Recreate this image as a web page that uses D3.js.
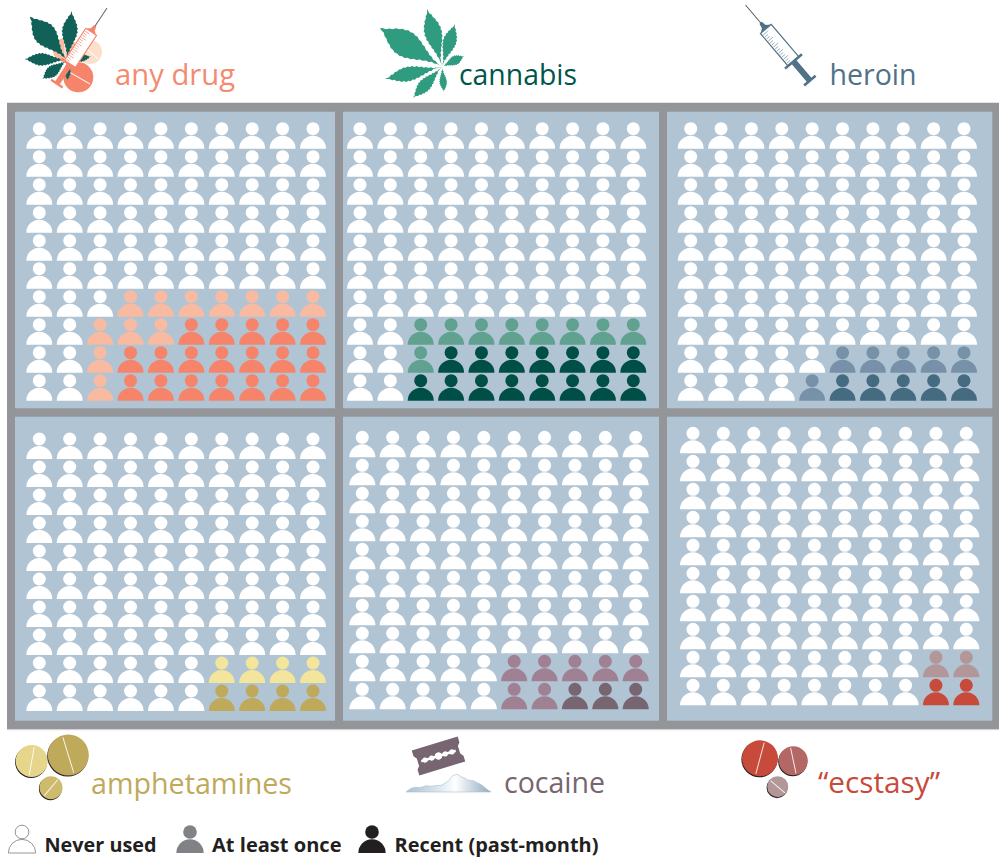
<!DOCTYPE html>
<html>
<head>
<meta charset="utf-8">
<title>Drug use among 100 people</title>
<style>
  html, body { margin: 0; padding: 0; background: #fff; }
  svg { display: block; }
  text { font-family: "Open Sans", "Noto Sans", sans-serif; }
  .legend-label { font-weight: 700; fill: #231f20; }
</style>
</head>
<body>
<svg class="chart"></svg>
<script src="https://cdnjs.cloudflare.com/ajax/libs/d3/7.8.5/d3.min.js"></script>
<script>
// people out of 100, counted per row starting from the bottom row
var anyDrugEver = [8, 8, 8, 7],
    anyDrugRecent = [7, 7, 5, 0],
    cannabisEver = [8, 8, 8],
    cannabisRecent = [8, 7, 0],
    heroinEver = [6, 5],
    heroinRecent = [5, 0],
    amphetaminesEver = [4, 4],
    amphetaminesRecent = [4, 0],
    cocaineEver = [5, 5],
    cocaineRecent = [3, 0],
    ecstasyEver = [2, 2],
    ecstasyRecent = [2, 0];

var drugNames = ["any drug", "cannabis", "heroin", "amphetamines", "cocaine", "\u201cecstasy\u201d"];
var legendNames = ["Never used", "At least once", "Recent (past-month)"];

var recentColors = ["#f5846b", "#004f47", "#456b80", "#bfa95b", "#776571", "#c84a3b"];
var everColors = ["#f9baa2", "#60a28f", "#7792a8", "#f3e69c", "#a08194", "#b29698"];
var titleColors = ["#f58a70", "#00564c", "#4f7287", "#bfa95b", "#776571", "#c84a3b"];

var width = 999, height = 862, nCols = 10, nRows = 10;

// panel frames [x0, x1, y0, y1] and first/last head centres [x0, x1, y0, y1]
var panelRects = [
  [15, 335, 111.7, 408.3], [343, 659, 111.7, 408.3], [667, 992.3, 111.7, 408.3],
  [15, 335, 416.7, 720.7], [343, 659, 416.7, 720.7], [667, 992.3, 416.7, 720.7]
];
var headExtents = [
  [39.3, 313, 128.7, 380.7], [360, 633.3, 128.7, 380.7], [690.7, 964, 128.7, 380.7],
  [39.3, 313, 439, 691], [362.3, 635.7, 437.3, 689.3], [693, 966.3, 433.3, 685.3]
];
var titleSpots = [
  [115, 85, 120, 29.5], [459, 84.5, 118, 28.5], [829.5, 84.5, 87, 28.5],
  [91, 794, 201, 28.5], [504, 793, 101, 28.5], [818, 793, 122, 28.5]
];

var panels = [
  [anyDrugEver, anyDrugRecent], [cannabisEver, cannabisRecent], [heroinEver, heroinRecent],
  [amphetaminesEver, amphetaminesRecent], [cocaineEver, cocaineRecent], [ecstasyEver, ecstasyRecent]
];

var svg = d3.select(".chart")
    .attr("width", width)
    .attr("height", height)
    .attr("viewBox", "0 0 " + width + " " + height);

var defs = svg.append("defs");

var powderFill = defs.append("linearGradient").attr("id", "powder");
powderFill.append("stop").attr("offset", "0").attr("stop-color", "#a9bfd0");
powderFill.append("stop").attr("offset", "0.4").attr("stop-color", "#dfe8ee");
powderFill.append("stop").attr("offset", "0.58").attr("stop-color", "#ffffff");
powderFill.append("stop").attr("offset", "1").attr("stop-color", "#8fa9bd");

// grey frame behind the panels, with its thin pale edge
svg.append("rect")
    .attr("x", 7)
    .attr("y", 102.4)
    .attr("width", 992)
    .attr("height", 627.8)
    .attr("fill", "#d1d3d4");

svg.append("rect")
    .attr("x", 7)
    .attr("y", 103)
    .attr("width", 992)
    .attr("height", 626)
    .attr("fill", "#939598");

svg.selectAll(".panel")
    .data(panelRects)
  .enter().append("rect")
    .attr("class", "panel")
    .attr("x", function(d) { return d[0]; })
    .attr("y", function(d) { return d[2]; })
    .attr("width", function(d) { return d[1] - d[0]; })
    .attr("height", function(d) { return d[3] - d[2]; })
    .attr("fill", "#b0c4d4");

var bodyArc = d3.arc()
    .innerRadius(0)
    .startAngle(-Math.PI / 2)
    .endAngle(Math.PI / 2);

function drawPerson(g, x, y, fill, stroke, scale) {
  var s = scale || 1;
  var p = g.append("g").attr("transform", "translate(" + x + "," + y + ")");
  p.append("circle")
      .attr("r", 6.5 * s)
      .attr("fill", fill)
      .attr("stroke", stroke || "none");
  p.append("path")
      .attr("transform", "translate(0," + (20 * s) + ")")
      .attr("d", bodyArc({outerRadius: 13 * s}) + "Z")
      .attr("fill", fill)
      .attr("stroke", stroke || "none");
}

// recent people sit rightmost in a row, at-least-once next to them
function personColor(i, rowFromBottom, col) {
  var ever = panels[i][0][rowFromBottom] || 0,
      recent = panels[i][1][rowFromBottom] || 0,
      fromRight = nCols - 1 - col;
  if (fromRight < recent) return recentColors[i];
  if (fromRight < ever) return everColors[i];
  return "#fff";
}

panels.forEach(function(p, i) {
  var ext = headExtents[i];
  var x = d3.scaleLinear().domain([0, nCols - 1]).range([ext[0], ext[1]]);
  var y = d3.scaleLinear().domain([nRows - 1, 0]).range([ext[2], ext[3]]);
  var g = svg.append("g").attr("class", "waffle");

  d3.range(nRows).forEach(function(r) {
    d3.range(nCols).forEach(function(c) {
      drawPerson(g, x(c), y(r), personColor(i, r, c));
    });
  });
});

// titles
svg.selectAll(".title")
    .data(drugNames)
  .enter().append("text")
    .attr("class", "title")
    .attr("x", function(d, i) { return titleSpots[i][0]; })
    .attr("y", function(d, i) { return titleSpots[i][1]; })
    .attr("textLength", function(d, i) { return titleSpots[i][2]; })
    .attr("lengthAdjust", "spacingAndGlyphs")
    .style("font-size", function(d, i) { return titleSpots[i][3] + "px"; })
    .attr("fill", function(d, i) { return titleColors[i]; })
    .text(function(d) { return d; });

// legend
var legendIcons = [[22, "#fff", "#939598"], [190, "#808285", null], [372, "#231f20", null]];
var legendText = [[44.5, 112], [212, 129.5], [394.5, 204]];

legendIcons.forEach(function(d) {
  drawPerson(svg.append("g"), d[0], 832, d[1], d[2], 1.05);
});

svg.selectAll(".legend-label")
    .data(legendNames)
  .enter().append("text")
    .attr("class", "legend-label")
    .attr("x", function(d, i) { return legendText[i][0]; })
    .attr("y", 851.5)
    .attr("textLength", function(d, i) { return legendText[i][1]; })
    .attr("lengthAdjust", "spacingAndGlyphs")
    .style("font-size", "20px")
    .text(function(d) { return d; });

// ---- pictograms ----

// one serrated leaflet from the leaf centre out to its tip
function leafletPath(base, tip, w) {
  var dx = tip[0] - base[0], dy = tip[1] - base[1],
      len = Math.sqrt(dx * dx + dy * dy),
      ux = dx / len, uy = dy / len,
      n = 26, left = [], right = [];
  d3.range(n + 1).forEach(function(k) {
    var t = k / n,
        half = w / 2 * Math.pow(Math.sin(Math.PI * Math.pow(t, 1.35)), 1.5),
        tooth = (k % 2) ? 0.6 : -0.4,
        h = half > 0.6 ? half + tooth : half,
        px = base[0] + ux * len * t,
        py = base[1] + uy * len * t;
    left.push([px - uy * h, py + ux * h]);
    right.unshift([px + uy * h, py - ux * h]);
  });
  return d3.line()(left.concat(right)) + "Z";
}

function drawLeaf(center, leaflets, color) {
  var g = svg.append("g");
  leaflets.forEach(function(l) {
    g.append("path")
        .attr("d", leafletPath(center, [l[0], l[1]], l[2]))
        .attr("fill", color);
  });
}

function drawPill(cx, cy, r, color, lineAngle, shadow) {
  var g = svg.append("g").attr("transform", "translate(" + cx + "," + cy + ")");
  if (shadow) {
    g.append("circle").attr("cx", -0.6).attr("cy", 1).attr("r", r).attr("fill", "#231f20");
  }
  g.append("circle").attr("r", r).attr("fill", color);
  g.append("line")
      .attr("transform", "rotate(" + lineAngle + ")")
      .attr("y1", -r * 0.9)
      .attr("y2", r * 0.9)
      .attr("stroke", "#fff")
      .attr("stroke-opacity", 0.85)
      .attr("stroke-width", 1);
}

// syringe drawn lying along x from the needle tip, then rotated into place
function drawSyringe(tip, end, color, tickColor) {
  var dx = end[0] - tip[0], dy = end[1] - tip[1],
      len = Math.sqrt(dx * dx + dy * dy),
      angle = Math.atan2(dy, dx) * 180 / Math.PI,
      k = len / 100;
  var g = svg.append("g")
      .attr("transform", "translate(" + tip[0] + "," + tip[1] + ") rotate(" + angle + ") scale(" + k + ")");
  g.append("line").attr("x2", 25).attr("stroke", "#58595b").attr("stroke-width", 1);
  g.append("path").attr("d", "M23,-1.5L28,-2.5L31,-6.5L31,6.5L28,2.5L23,1.5Z").attr("fill", color);
  g.append("rect").attr("x", 31).attr("y", -7).attr("width", 42).attr("height", 14)
      .attr("fill", "#fff").attr("stroke", color).attr("stroke-width", 1.2);
  d3.range(15).forEach(function(j) {
    g.append("line")
        .attr("x1", 34 + j * 2.6).attr("x2", 34 + j * 2.6)
        .attr("y1", 6).attr("y2", j % 3 ? 2 : 0)
        .attr("stroke", tickColor).attr("stroke-width", 0.7);
  });
  g.append("rect").attr("x", 72).attr("y", -11).attr("width", 2.5).attr("height", 22).attr("fill", color);
  g.append("rect").attr("x", 74).attr("y", -3).attr("width", 24).attr("height", 6).attr("fill", color);
  g.append("rect").attr("x", 97).attr("y", -7.5).attr("width", 2.5).attr("height", 15).attr("fill", color);
}

// any drug: pills, leaf and syringe stacked together
drawPill(65, 50, 12, "#f9baa2", 0, false);
drawPill(90, 52, 12, "#fde0cb", -50, false);
drawPill(78.3, 77.3, 15, "#f5846b", -60, false);
drawLeaf([67, 60], [
  [71.7, 11, 15], [30, 16.7, 22], [91, 56.7, 7], [24.3, 59, 12], [42.3, 79, 11], [67.7, 80, 6]
], "#116158");
drawSyringe([107, 8], [56, 85], "#f5846b", "#f5846b");

// cannabis
drawLeaf([442, 66.7], [
  [427, 9, 17], [380, 28, 26], [455, 24, 13], [464, 56, 9], [385, 79, 14], [413, 98, 12], [444, 92, 7]
], "#2f9b7f");

// heroin
drawSyringe([745.5, 5], [811, 82], "#4f7287", "#7792a8");

// amphetamines
drawPill(31.7, 761, 16, "#e5d68c", 10, true);
drawPill(68.3, 755, 20.5, "#bfa95b", -17, true);
drawPill(51, 787.7, 11.5, "#cfbb6e", 40, true);

// cocaine: razor blade over a line of powder
var blade = svg.append("g").attr("transform", "translate(438.5,756) rotate(-17)");
blade.append("path")
    .attr("d", "M-24,-13L24,-13L24,-7L21.5,-4L21.5,4L24,7L24,13L-24,13L-24,7L-21.5,4L-21.5,-4L-24,-7Z")
    .attr("fill", "#776571");
blade.append("rect").attr("x", -18).attr("y", -1.2).attr("width", 36).attr("height", 2.4).attr("fill", "#fff");
[-14, -7, 0, 7, 14].forEach(function(cx) {
  blade.append("circle").attr("cx", cx).attr("r", cx === 0 ? 3.6 : 2.6).attr("fill", "#fff");
});

var powderEdge = [
  [406, 792], [411, 788], [416, 787], [421, 788], [426, 785], [431, 787], [436, 785], [441, 786],
  [445, 783], [449, 781], [451, 777], [454, 775], [458, 774], [461, 777], [465, 778], [469, 781],
  [473, 780], [477, 783], [481, 784], [485, 788], [491, 792]
];
svg.append("path")
    .attr("d", d3.line().curve(d3.curveBasis)(powderEdge) + "Z")
    .attr("fill", "url(#powder)")
    .attr("stroke", "#b0c4d4")
    .attr("stroke-width", 0.7);

// ecstasy
drawPill(760, 758.3, 18, "#c84a3b", 15, true);
drawPill(793.3, 760.7, 14.5, "#b36866", -12, true);
drawPill(777.7, 786.7, 10.5, "#b29698", -50, true);
</script>
</body>
</html>
